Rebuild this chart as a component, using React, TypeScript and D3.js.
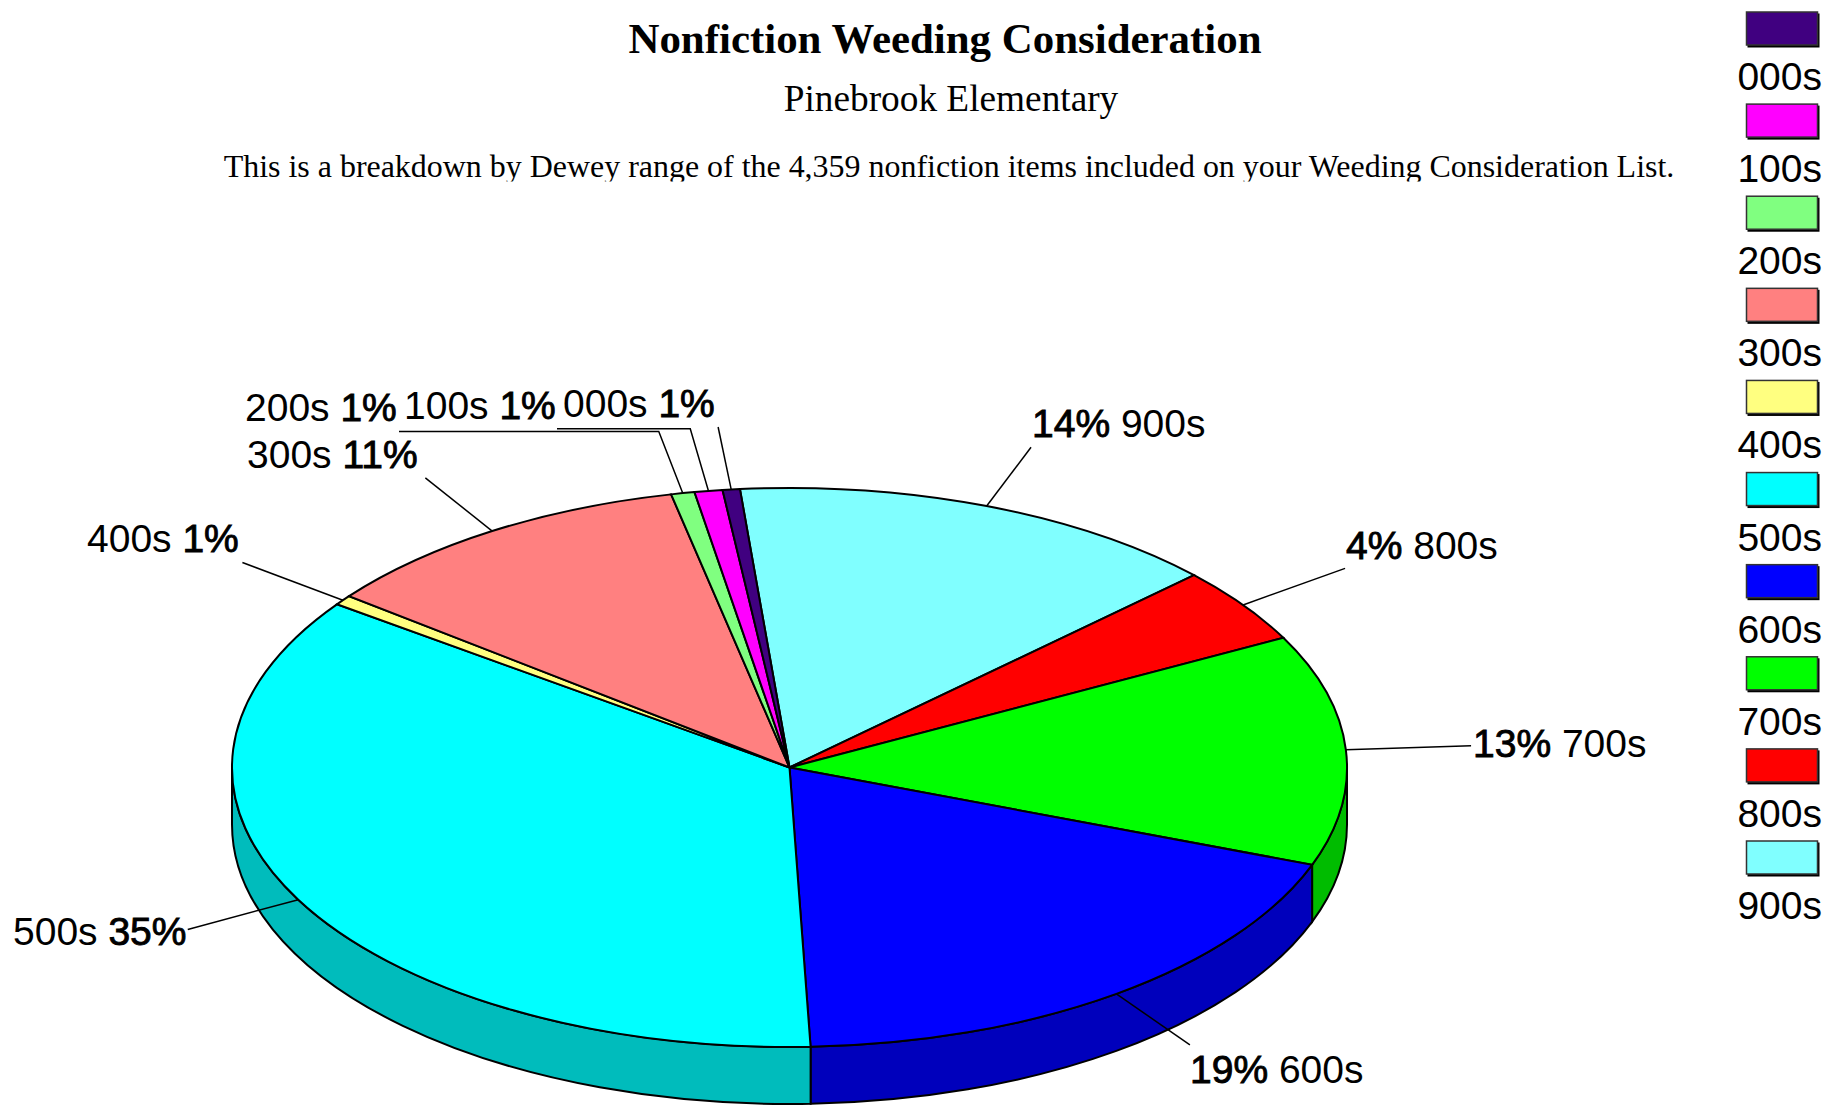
import React from 'react';
import * as d3 from 'd3';

const categories = ['900s', '800s', '700s', '600s', '500s', '400s', '300s', '200s', '100s', '000s'];
const shares = [14.35, 4.4, 13.35, 18.75, 35.55, 0.58, 11.1, 0.68, 0.81, 0.5];
const shareLabels = ['14%', '4%', '13%', '19%', '35%', '1%', '11%', '1%', '1%', '1%'];
const colours = ['#80ffff', '#ff0000', '#00ff00', '#0000ff', '#00ffff', '#ffff80', '#ff8080', '#80ff80', '#ff00ff', '#400080'];
const legendOrder = ['000s', '100s', '200s', '300s', '400s', '500s', '600s', '700s', '800s', '900s'];

const width = 1844;
const height = 1105;
const cx = 789.5;
const cy = 767.5;
const rx = 557.5;
const ry = 279.5;
const depth = 57;
const leaderFactor = 1.225;
const startDeg = -5.1;

// where each label starts (x, baseline) and the leader's horizontal run, by category
const labelPos: Record<string, { x: number; y: number; elbowTo?: number; pctFirst?: boolean }> = {
  '900s': { x: 1032, y: 437, pctFirst: true },
  '800s': { x: 1346, y: 559, pctFirst: true },
  '700s': { x: 1473, y: 757, pctFirst: true },
  '600s': { x: 1190, y: 1083, pctFirst: true },
  '500s': { x: 13, y: 945 },
  '400s': { x: 87, y: 552 },
  '300s': { x: 247, y: 468 },
  '200s': { x: 245, y: 421, elbowTo: 399 },
  '100s': { x: 404, y: 419, elbowTo: 557 },
  '000s': { x: 563, y: 417 },
};

const start = (startDeg * Math.PI) / 180;
const pie = d3.pie<number>().sort(null).startAngle(start).endAngle(start + 2 * Math.PI);
const arcs = pie(shares);
const arc = d3.arc<d3.PieArcDatum<number>>().innerRadius(0).outerRadius(rx);

const rim = (a: number, k = 1): [number, number] => [cx + k * rx * Math.sin(a), cy - k * ry * Math.cos(a)];

// wall of a slice, only the part facing the viewer (90deg to 270deg)
const wallPath = (d: d3.PieArcDatum<number>) => {
  const a = Math.max(d.startAngle, Math.PI / 2);
  const b = Math.min(d.endAngle, (3 * Math.PI) / 2);
  if (b <= a) return null;
  const [x0, y0] = rim(a);
  const [x1, y1] = rim(b);
  return `M${x0},${y0}A${rx},${ry} 0 0 1 ${x1},${y1}L${x1},${y1 + depth}A${rx},${ry} 0 0 0 ${x0},${y0 + depth}Z`;
};

const legendY = d3.scalePoint<string>().domain(legendOrder).range([12, 841]);

const sans = '"Liberation Sans", Arial, sans-serif';
const serif = '"Liberation Serif", "Times New Roman", serif';
const fontSize = 39;

// percentages are a bit heavier than the names, but not full bold
const Pct = ({ children }: { children: string }) => (
  <tspan stroke="#000" strokeWidth={0.9}>{children}</tspan>
);

export default function App() {
  return (
    <svg width={width} height={height} style={{ position: 'absolute', left: 0, top: 0, background: '#fff' }}>
      <defs>
        <clipPath id="header-clip">
          <rect x={0} y={0} width={width} height={181.5} />
        </clipPath>
      </defs>
      <g fontFamily={serif} textAnchor="middle" fill="#000" clipPath="url(#header-clip)">
        <text x={945} y={53} fontSize={42.9} fontWeight="bold">Nonfiction Weeding Consideration</text>
        <text x={951} y={111} fontSize={37.3}>Pinebrook Elementary</text>
        <text x={949} y={177} fontSize={31.95}>This is a breakdown by Dewey range of the 4,359 nonfiction items included on your Weeding Consideration List.</text>
      </g>

      {arcs.map((d, i) => {
        const p = wallPath(d);
        return p && (
          <path key={categories[i]} d={p} fill={d3.rgb(colours[i]).darker(0.85).formatHex()} stroke="#000" strokeWidth={2} />
        );
      })}
      <g transform={`translate(${cx},${cy}) scale(1,${ry / rx})`}>
        {arcs.map((d, i) => (
          <path key={categories[i]} d={arc(d) as string} fill={colours[i]} stroke="#000" strokeWidth={2} vectorEffect="non-scaling-stroke" />
        ))}
      </g>

      {arcs.map((d, i) => {
        const mid = (d.startAngle + d.endAngle) / 2;
        const [x0, y0] = rim(mid);
        const [x1, y1] = rim(mid, leaderFactor);
        const pos = labelPos[categories[i]];
        const pts = [`${x0},${y0}`, `${x1},${y1}`];
        if (pos.elbowTo !== undefined) pts.push(`${pos.elbowTo},${y1}`);
        return <polyline key={categories[i]} points={pts.join(' ')} fill="none" stroke="#000" strokeWidth={1.5} />;
      })}

      <g fontFamily={sans} fontSize={fontSize} fill="#000">
        {categories.map((c, i) => {
          const pos = labelPos[c];
          return pos.pctFirst ? (
            <text key={c} x={pos.x} y={pos.y}>
              <Pct>{shareLabels[i]}</Pct> {c}
            </text>
          ) : (
            <text key={c} x={pos.x} y={pos.y}>
              {c} <Pct>{shareLabels[i]}</Pct>
            </text>
          );
        })}
      </g>

      {legendOrder.map((c) => {
        const y = legendY(c) as number;
        return (
          <g key={c}>
            <rect x={1747.5} y={y + 1.5} width={72} height={34} fill="#000" />
            <rect x={1746.5} y={y} width={71} height={33} fill={colours[categories.indexOf(c)]} stroke="#333" strokeWidth={1.5} />
            <text x={1822} y={y + 78} textAnchor="end" fontFamily={sans} fontSize={fontSize} fill="#000">{c}</text>
          </g>
        );
      })}
    </svg>
  );
}
